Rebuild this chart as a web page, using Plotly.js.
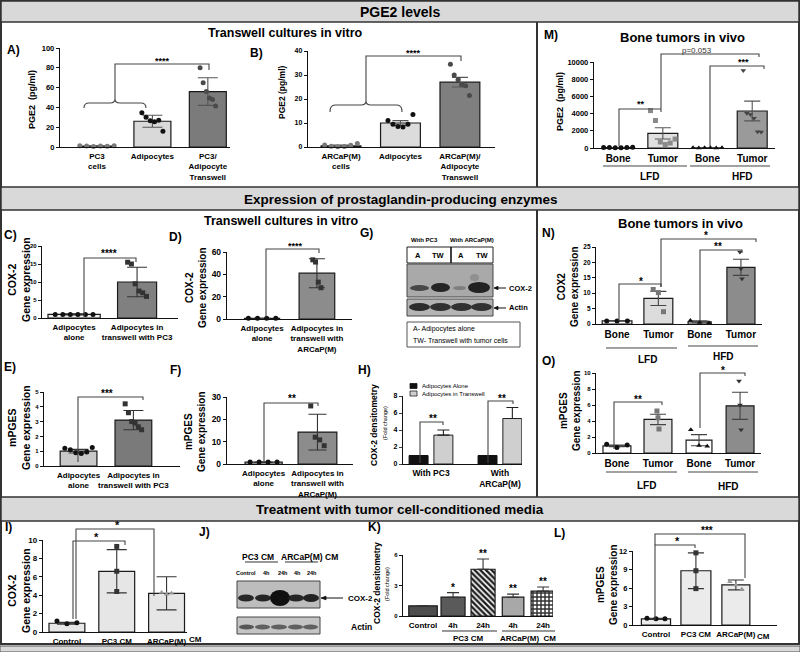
<!DOCTYPE html>
<html><head><meta charset="utf-8">
<script src="https://cdn.plot.ly/plotly-3.0.1.min.js"></script>
<style>html,body{margin:0;padding:0;background:#fff}#chart{width:800px;height:652px}</style>
</head><body><div id="chart"></div>
<script>
// ================= DATA =================
// A) PGE2, PC3 transwell
const A_cats = ['PC3<br>cells', 'Adipocytes', 'PC3/<br>Adipocyte<br>Transwell'];
const A_mean = [1, 26, 56];
const A_sd = [0.3, 6, 14];
const A_pc3 = [1.2, 1.0, 0.6, 1.0, 0.8, 1.3];
const A_adip = [34.5, 30, 26.5, 25.5, 27, 16];
const A_tw = [80, 65, 56, 49.5, 48, 41.5];
// B) PGE2, ARCaP(M) transwell
const B_cats = ['ARCaP(M)<br>cells', 'Adipocytes', 'ARCaP(M)/<br>Adipocyte<br>Transwell'];
const B_mean = [0.5, 10, 27];
const B_sd = [0.3, 1, 2];
const B_arcap = [0.8, 0.3, 0.1, 0.2, 0.7, 1.5];
const B_adip = [11, 9.5, 8.5, 8.3, 9.5, 13.5];
const B_tw = [34.5, 30, 28, 26, 25.5, 21.5];
// M) PGE2 in bone tumors
const M_cats = ['Bone', 'Tumor', 'Bone', 'Tumor'];
const M_mean = [50, 1700, 20, 4300];
const M_sd = [10, 650, 5, 1150];
const M_lfdBone = [50, 60, 40, 30, 50, 100];
const M_lfdTumor = [4350, 3200, 700, 400, 580, 1040];
const M_hfdBone = [20, 10, 15, 20, 10, 25];
const M_hfdTumor = [9000, 4050, 3900, 3450, 1900, 1850];
// C) COX-2, PC3 transwell
const C_cats = ['Adipocytes<br>alone', 'Adipocytes in<br>transwell with PC3'];
const C_mean = [1, 10];
const C_sd = [0.15, 4.1];
const C_alone = [1, 1, 1, 1, 1, 1];
const C_tw = [15.5, 15, 9.5, 7.5, 7, 6];
// D) COX-2, ARCaP(M) transwell
const D_cats = ['Adipocytes<br>alone', 'Adipocytes in<br>transwell with<br>ARCaP(M)'];
const D_mean = [0.6, 41];
const D_sd = [0.1, 13];
const D_alone = [0.6, 0.6, 0.6, 0.6];
const D_tw = [53, 51, 33, 28];
// E) mPGES, PC3 transwell
const E_cats = ['Adipocytes<br>alone', 'Adipocytes in<br>transwell with PC3'];
const E_mean = [1, 3.1];
const E_sd = [0.12, 0.65];
const E_alone = [1.2, 1.1, 0.9, 0.85, 0.95, 1.25];
const E_tw = [4.2, 3.6, 3.0, 2.9, 2.65, 2.45];
// F) mPGES, ARCaP(M) transwell
const F_cats = ['Adipocytes<br>alone', 'Adipocytes in<br>transwell with<br>ARCaP(M)'];
const F_mean = [0.8, 14.3];
const F_sd = [0.1, 8];
const F_alone = [0.9, 0.9, 0.9, 0.9];
const F_tw = [26, 12, 10.8, 8.2];
// H) COX-2 densitometry
const H_cats = ['With PC3', 'With<br>ARCaP(M)'];
const H_alone = [1, 1];
const H_tw = [3.4, 5.35];
const H_tw_sd = [0.6, 1.3];
// N) COX2 in bone tumors
const N_cats = ['Bone', 'Tumor', 'Bone', 'Tumor'];
const N_mean = [1, 8.3, 0.7, 18.4];
const N_sd = [0.05, 2.3, 0.3, 2.6];
const N_lfdBone = [1, 1, 1];
const N_lfdTumor = [11.2, 10.2, 4];
const N_hfdBone = [1.1, 0.5, 0.4];
const N_hfdTumor = [23.4, 17.9, 14.7];
// O) mPGES in bone tumors
const O_cats = ['Bone', 'Tumor', 'Bone', 'Tumor'];
const O_mean = [0.9, 4.2, 1.6, 5.9];
const O_sd = [0.1, 0.65, 0.7, 1.7];
const O_lfdBone = [1.1, 0.7, 1.0];
const O_lfdTumor = [5.25, 4.4, 3.0];
const O_hfdBone = [2.9, 0.95, 0.85];
const O_hfdTumor = [9.0, 6.0, 2.9];
// I) COX-2 with conditioned media
const I_cats = ['Control', 'PC3 CM', 'ARCaP(M)'];
const I_mean = [0.95, 6.6, 4.2];
const I_sd = [0.1, 2.35, 1.8];
const I_ctrl = [1.2, 0.9, 1.0];
const I_pc3 = [9.3, 6.6, 4.4];
const I_arcap = [4.3, 4.1, 4.2];
// K) COX-2 densitometry with conditioned media
const K_cats = ['Control', '4h', '24h', '4h', '24h'];
const K_mean = [1, 1.85, 4.6, 1.85, 2.45];
const K_sd = [0, 0.45, 1.0, 0.3, 0.4];
const K_stars = ['', '*', '**', '**', '**'];
// L) mPGES with conditioned media
const L_cats = ['Control', 'PC3 CM', 'ARCaP(M)'];
const L_mean = [1, 8.8, 6.5];
const L_sd = [0.1, 2.9, 0.8];
const L_ctrl = [1.1, 1.0, 1.0];
const L_pc3 = [11.7, 8.8, 5.9];
const L_arcap = [7.0, 6.5, 5.8];

// ================= HELPERS =================
const W = 800, H = 652;
const FONT = 'Liberation Sans, Arial, Helvetica, sans-serif';
const INK = '#000000';
const traces = [], shapes = [], annotations = [];
const layout = {
  width: W, height: H, margin: {l: 0, r: 0, t: 0, b: 0},
  paper_bgcolor: '#ffffff', plot_bgcolor: 'rgba(0,0,0,0)',
  showlegend: false, barmode: 'overlay',
  font: {family: FONT, color: INK},
  shapes: shapes, annotations: annotations
};
const fx = x => x / W, fy = y => 1 - y / H;
function conv(d) {
  const t = d.trim().split(/[\s,]+/);
  const out = []; let isX = true;
  for (const s of t) {
    if (/^[A-Za-z]$/.test(s)) { out.push(s); isX = true; }
    else { const v = parseFloat(s); out.push(isX ? fx(v).toFixed(5) : fy(v).toFixed(5)); isX = !isX; }
  }
  return out.join(' ');
}
function P(d, color, width, layer, fill) {
  shapes.push({type: 'path', xref: 'paper', yref: 'paper', path: conv(d),
    line: {color: color || '#222', width: width || 1.1}, fillcolor: fill || 'rgba(0,0,0,0)', layer: layer || 'above'});
}
function R(x0, y0, x1, y1, fill, lc, lw, layer) {
  shapes.push({type: 'rect', xref: 'paper', yref: 'paper', x0: fx(x0), x1: fx(x1), y0: fy(y1), y1: fy(y0),
    fillcolor: fill || 'rgba(0,0,0,0)', line: {color: lc || 'rgba(0,0,0,0)', width: lw || 0}, layer: layer || 'below'});
}
function Ell(x0, y0, x1, y1, fill, op) {
  shapes.push({type: 'circle', xref: 'paper', yref: 'paper', x0: fx(x0), x1: fx(x1), y0: fy(y1), y1: fy(y0),
    fillcolor: fill, opacity: op || 1, line: {width: 0}, layer: 'above'});
}
function T(x, y, text, size, o) {
  o = o || {};
  annotations.push({xref: 'paper', yref: 'paper', x: fx(x), y: fy(y), text: text, showarrow: false,
    xanchor: o.xa || 'center', yanchor: o.ya || 'middle', textangle: o.rot || 0,
    font: {family: o.fam || FONT, size: size, color: o.color || INK, weight: o.w || 'bold'}});
}
function ids(n) { const s = n === 1 ? '' : String(n); return {x: 'x' + s, y: 'y' + s, xk: 'xaxis' + s, yk: 'yaxis' + s}; }

function panel(n, o) {
  const id = ids(n);
  const [x0, x1, yt, yb] = o.box;
  layout[id.xk] = {domain: [fx(x0), fx(x1)], range: o.xr, anchor: id.y, showgrid: false, zeroline: false,
    showline: true, linecolor: '#111', linewidth: 1.2, ticks: '', tickangle: 0, tickmode: 'array',
    tickvals: o.cats.map((c, i) => i), ticktext: o.cats, ticklabelstandoff: o.stand || 1,
    tickfont: {family: FONT, size: o.catSize, color: INK, weight: 'bold'}, fixedrange: true};
  layout[id.yk] = {domain: [fy(yb), fy(yt)], range: o.yr, anchor: id.x, showgrid: false, zeroline: false,
    showline: true, linecolor: '#111', linewidth: 1.2, ticks: 'outside', ticklen: 3, tickwidth: 1, tickcolor: '#111',
    tick0: 0, dtick: o.dtick, tickformat: o.tickformat || '', exponentformat: 'none',
    tickfont: {family: FONT, size: o.tickSize, color: INK, weight: 'bold'}, fixedrange: true};
  const bar = {type: 'bar', x: o.cats.map((c, i) => i), y: o.mean, width: o.widths, xaxis: id.x, yaxis: id.y,
    marker: {color: o.colors, line: {color: '#1a1a1a', width: 1.2}}, hoverinfo: 'skip'};
  if (o.pattern) bar.marker.pattern = o.pattern;
  if (o.sd) bar.error_y = {type: 'data', symmetric: false, array: o.sd, arrayminus: o.upOnly ? o.sd.map(() => 0) : o.sd,
    visible: true, color: o.ecol || '#222', thickness: 1.1, width: o.cap};
  traces.push(bar);
  if (o.pts) {
    const xs = [], ys = [], cs = [], ss = [];
    o.pts.forEach((g, i) => {
      const m = g.length;
      g.forEach((v, k) => {
        xs.push(i + (m > 1 ? (k / (m - 1) - 0.5) * o.spread[i] : 0));
        ys.push(v); cs.push(o.pcol[i]); ss.push(o.sym[i]);
      });
    });
    traces.push({type: 'scatter', mode: 'markers', x: xs, y: ys, xaxis: id.x, yaxis: id.y, cliponaxis: false,
      marker: {size: o.psize || 5, color: cs, symbol: ss, line: {width: 0}}, hoverinfo: 'skip'});
  }
  return id;
}

// ================= FRAME =================
R(1, 1, 799, 644, 'rgba(0,0,0,0)', '#333', 2);
R(1, 1, 799, 22, '#d9d9d9', '#333', 1.5);
R(1, 187, 799, 210, '#d9d9d9', '#333', 1.5);
R(1, 497, 799, 521, '#d9d9d9', '#333', 1.5);
R(0, 646, 800, 652, '#d9d9d9', '#555', 1);
P('M 537 22 L 537 187', '#333', 2, 'below');
P('M 537 210 L 537 497', '#333', 2, 'below');
T(400, 12, 'PGE2 levels', 14);
T(401, 199, 'Expression of prostaglandin-producing enzymes', 13.5);
T(400, 509, 'Treatment with tumor cell-conditioned media', 13.5);
T(285, 33, 'Transwell cultures in vitro', 12.5);
T(682, 37, 'Bone tumors in vivo', 13);
T(281, 221, 'Transwell cultures in vitro', 12.5);
T(680, 223, 'Bone tumors in vivo', 13);

// panel letters
[['A)',13,50],['B)',256,53],['M)',551,35],['C)',10,235],['D)',175,237],['G)',366,233],['N)',548,233],
 ['E)',10,367],['F)',175,370],['H)',364,370],['O)',548,361],['I)',8,527],['J)',204,532],['K)',374,527],['L)',559,533]]
 .forEach(a => T(a[1], a[2], a[0], 12));

// ================= PANELS =================
const DARK = '#111';
// A
panel(1, {box: [60, 230, 48, 147], xr: [-0.667, 2.40], yr: [0, 100], dtick: 20, cats: A_cats, mean: A_mean, sd: A_sd,
  widths: 0.667, colors: ['#ffffff', '#d9d9d9', '#7b7b7b'], pts: [A_pc3, A_adip, A_tw], spread: [0.62, 0.38, 0.28],
  sym: ['circle', 'circle', 'circle'], pcol: ['#7a7a7a', DARK, '#4a4a4a'], cap: 10, catSize: 8, tickSize: 7.5, ecol: '#555'});
T(32, 100, 'PGE2  (pg/ml)', 9, {rot: -90});
P('M 84 108 Q 84 103 89 103 L 110 103 Q 115 103 115 99 Q 115 103 120 103 L 141 103 Q 146 103 146 108', '#444', 1.1);
P('M 115 99 L 115 64 L 209 64 L 209 70', '#444', 1.1);
T(162, 61, '****', 9);
// B
panel(2, {box: [308, 495, 51, 147], xr: [-0.555, 2.59], yr: [0, 40], dtick: 10, cats: B_cats, mean: B_mean, sd: B_sd,
  widths: 0.67, colors: ['#ffffff', '#dcdcdc', '#7f7f7f'], pts: [B_arcap, B_adip, B_tw], spread: [0.55, 0.42, 0.32],
  sym: ['circle', 'circle', 'circle'], pcol: ['#7a7a7a', DARK, '#4a4a4a'], cap: 8, catSize: 8, tickSize: 7, ecol: '#555'});
T(282, 92, 'PGE2 (pg/ml)', 8.5, {rot: -90});
P('M 330 112 Q 330 105 335 105 L 361 105 Q 366 105 366 101 Q 366 105 371 105 L 397 105 Q 402 105 402 112', '#444', 1.1);
P('M 366 101 L 366 56 L 461 56 L 461 61', '#444', 1.1);
T(413, 53, '****', 9);
// M
panel(3, {box: [594, 775, 62, 148], xr: [-0.54, 3.51], yr: [0, 10000], dtick: 2000, tickformat: 'd', cats: M_cats, mean: M_mean, sd: M_sd,
  widths: 0.67, colors: ['#ffffff', '#e0e0e0', '#ffffff', '#9a9a9a'], pts: [M_lfdBone, M_lfdTumor, M_hfdBone, M_hfdTumor],
  spread: [0.65, 0.55, 0.65, 0.4], sym: ['circle', 'square', 'triangle-up', 'triangle-down'], pcol: [DARK, '#8a8a8a', DARK, '#444'],
  cap: 8, catSize: 10, tickSize: 7.5, ecol: '#555'});
T(560, 102, 'PGE2  (pg/ml)', 9, {rot: -90});
P('M 619 146 L 619 109 L 661 109', '#444', 1.1);
P('M 661 112 L 661 54 L 759 54 L 759 57', '#444', 1.1);
P('M 710 146 L 710 66 L 764 66 L 764 69', '#444', 1.1);
T(641, 104, '**', 9); T(697, 50, 'p=0.053', 8, {w: 'normal', color: '#333'}); T(743, 62, '***', 9);
P('M 603 166 L 687 166', '#444', 1); P('M 690 166 L 770 166', '#444', 1);
T(649, 176, 'LFD', 10); T(742, 176, 'HFD', 10);

// C
panel(4, {box: [42, 178, 246, 318], xr: [-0.51, 1.65], yr: [0, 20], dtick: 5, cats: C_cats, mean: C_mean, sd: C_sd,
  widths: [0.83, 0.62], colors: ['#f0f0f0', '#808080'], pts: [C_alone, C_tw], spread: [0.6, 0.3],
  sym: ['circle', 'square'], pcol: [DARK, '#333'], cap: 10, catSize: 8, tickSize: 6, ecol: '#333'});
T(19, 280, 'COX-2<br>Gene expression', 10.5, {rot: -90});
P('M 84 316 L 84 258 L 136 258 L 136 262', '#444', 1.1);
T(109, 254, '****', 10);
// D
panel(5, {box: [227, 352, 252, 319], xr: [-0.64, 1.64], yr: [0, 60], dtick: 20, cats: D_cats, mean: D_mean, sd: D_sd,
  widths: [0.64, 0.65], colors: ['#ffffff', '#8c8c8c'], pts: [D_alone, D_tw], spread: [0.5, 0.15],
  sym: ['circle', 'square'], pcol: [DARK, '#333'], cap: 8, catSize: 8, tickSize: 8.5, ecol: '#333'});
T(196, 288, 'COX-2<br>Gene expression', 10, {rot: -90});
P('M 266 317 L 266 249 L 319 249 L 319 253', '#444', 1.1);
T(295, 246, '****', 9);

// G) western blot
T(424, 240, 'With PC3', 6); T(472, 240, 'With ARCaP(M)', 6);
R(407, 247, 493, 263, '#ffffff', '#222', 1, 'above');
P('M 451 247 L 451 263', '#111', 1.6);
T(418, 255, 'A', 7.5); T(438, 255, 'TW', 7.5); T(461, 255, 'A', 7.5); T(482, 255, 'TW', 7.5);
R(407, 264, 493, 297, '#a9a9a9', '#444', 1, 'above');
Ell(410, 285, 429, 291, '#3c3c3c', 0.9);
Ell(431, 283, 450, 292, '#1e1e1e', 0.95);
Ell(453, 286, 466, 290, '#7a7a7a', 0.9);
Ell(468, 282, 490, 293, '#1a1a1a', 0.95);
Ell(470, 274, 479, 281, '#8a8a8a', 0.8);
R(407, 299, 493, 316, '#b4b4b4', '#444', 1, 'above');
Ell(409, 303, 430, 311, '#262626', 0.95);
Ell(430, 303, 451, 311, '#2a2a2a', 0.95);
Ell(451, 303, 472, 311, '#2a2a2a', 0.95);
Ell(471, 303, 492, 311, '#2a2a2a', 0.95);
P('M 495 288 L 506 288', '#111', 1); P('M 494 288 L 498 286.3 L 498 289.7 Z', '#111', 0.8, 'above', '#111');
P('M 495 308 L 506 308', '#111', 1); P('M 494 308 L 498 306.3 L 498 309.7 Z', '#111', 0.8, 'above', '#111');
T(507, 288, 'COX-2', 7.5, {xa: 'left'}); T(507, 308, 'Actin', 7.5, {xa: 'left'});
R(407, 322, 520, 347, '#ffffff', '#555', 1, 'above');
T(411, 329, 'A- Adipocytes alone', 7, {xa: 'left', w: 'normal'});
T(411, 340, 'TW- Transwell with tumor cells', 7, {xa: 'left', w: 'normal'});

// N
panel(6, {box: [596, 762, 247, 324], xr: [-0.51, 3.51], yr: [0, 25], dtick: 5, cats: N_cats, mean: N_mean, sd: N_sd,
  widths: [0.72, 0.7, 0.56, 0.68], colors: ['#ffffff', '#dcdcdc', '#ffffff', '#8c8c8c'],
  pts: [N_lfdBone, N_lfdTumor, N_hfdBone, N_hfdTumor], spread: [0.5, 0.25, 0.45, 0.05],
  sym: ['circle', 'square', 'triangle-up', 'triangle-down'], pcol: [DARK, '#777', DARK, '#333'], cap: 8, catSize: 10, tickSize: 6.5, ecol: '#444'});
T(568, 287, 'COX2<br>Gene expression', 10, {rot: -90});
P('M 619 321 L 619 284 L 661 284 L 661 287', '#444', 1.1);
P('M 661 287 L 661 239 L 756 239 L 756 242', '#444', 1.1);
P('M 700 321 L 700 250 L 742 250 L 742 253', '#444', 1.1);
T(641, 281, '*', 10); T(706, 235, '*', 10); T(718, 246, '**', 10);
P('M 606 348 L 677 348', '#444', 1); P('M 688 346 L 758 346', '#444', 1);
T(647, 359, 'LFD', 10); T(723, 356, 'HFD', 10);

// E
panel(7, {box: [44, 180, 392, 466], xr: [-0.63, 1.85], yr: [0, 5], dtick: 1, cats: E_cats, mean: E_mean, sd: E_sd,
  widths: 0.67, colors: ['#c8c8c8', '#7a7a7a'], pts: [E_alone, E_tw], spread: [0.5, 0.3],
  sym: ['circle', 'square'], pcol: [DARK, '#333'], cap: 10, catSize: 8, tickSize: 6, ecol: '#333'});
T(19, 428, 'mPGES<br>Gene expression', 10.5, {rot: -90});
P('M 78 462 L 78 397 L 143 397 L 143 400', '#444', 1.1);
T(107, 393, '***', 10);
// F
panel(8, {box: [227, 353, 397, 464], xr: [-0.68, 1.66], yr: [0, 30], dtick: 10, cats: F_cats, mean: F_mean, sd: F_sd,
  widths: [0.69, 0.72], colors: ['#ffffff', '#8c8c8c'], pts: [F_alone, F_tw], spread: [0.5, 0.25],
  sym: ['circle', 'square'], pcol: [DARK, '#333'], cap: 9, catSize: 8, tickSize: 8.5, ecol: '#333'});
T(195, 432, 'mPGES<br>Gene expression', 10, {rot: -90});
P('M 264 462 L 264 403 L 318 403 L 318 406', '#444', 1.1);
T(292, 398, '**', 10);

// H
(function () {
  const id = ids(9);
  layout[id.xk] = {domain: [fx(403), fx(522)], range: [-0.406, 1.32], anchor: id.y, showgrid: false, zeroline: false,
    showline: true, linecolor: '#111', linewidth: 1.2, ticks: '', tickangle: 0, tickmode: 'array', tickvals: H_cats.map((c, i) => i),
    ticktext: H_cats, ticklabelstandoff: 1, tickfont: {family: FONT, size: 8.5, color: INK, weight: 'bold'}, fixedrange: true};
  layout[id.yk] = {domain: [fy(464), fy(396)], range: [0, 8], anchor: id.x, showgrid: false, zeroline: false,
    showline: true, linecolor: '#111', linewidth: 1.2, ticks: 'outside', ticklen: 3, tickwidth: 1, tick0: 0, dtick: 2,
    tickfont: {family: FONT, size: 7, color: INK, weight: 'bold'}, fixedrange: true};
  traces.push({type: 'bar', name: 'Adipocytes Alone', x: [0, 1], y: H_alone, width: 0.275, offset: -0.3175,
    xaxis: id.x, yaxis: id.y, marker: {color: '#111', line: {color: '#111', width: 1}}, hoverinfo: 'skip'});
  traces.push({type: 'bar', name: 'Adipocytes in Transwell', x: [0, 1], y: H_tw, width: 0.275, offset: 0.0425,
    xaxis: id.x, yaxis: id.y, marker: {color: '#cfcfcf', line: {color: '#222', width: 1}},
    error_y: {type: 'data', symmetric: false, array: H_tw_sd, arrayminus: [0, 0], color: '#222', thickness: 1.1, width: 6},
    hoverinfo: 'skip'});
})();
T(374, 425, 'COX-2 densitometry', 8.5, {rot: -90});
T(385, 423, '(Fold change)', 5.5, {rot: -90, w: 'normal'});
R(410, 383.5, 417, 388.5, '#111', '#111', 0.8, 'above');
R(410, 391, 417, 396, '#cfcfcf', '#222', 0.8, 'above');
T(420, 386, 'Adipocytes Alone', 6, {xa: 'left', w: 'normal'});
T(420, 393.5, 'Adipocytes in Transwell', 6, {xa: 'left', w: 'normal'});
P('M 420 463 L 420 422 L 443 422 L 443 425', '#444', 1.1);
T(433, 419, '**', 10);
P('M 488 463 L 488 401 L 513 401 L 513 404', '#444', 1.1);
T(502, 398, '**', 10);

// O
panel(10, {box: [596, 761, 373, 453], xr: [-0.51, 3.51], yr: [0, 10], dtick: 2, cats: O_cats, mean: O_mean, sd: O_sd,
  widths: [0.68, 0.68, 0.63, 0.68], colors: ['#ffffff', '#dcdcdc', '#ffffff', '#8c8c8c'],
  pts: [O_lfdBone, O_lfdTumor, O_hfdBone, O_hfdTumor], spread: [0.5, 0.05, 0.4, 0.05],
  sym: ['circle', 'square', 'triangle-up', 'triangle-down'], pcol: [DARK, '#777', DARK, '#333'], cap: 8, catSize: 10, tickSize: 6, ecol: '#444'});
T(570, 411, 'mPGES<br>Gene expression', 10, {rot: -90});
P('M 614 449 L 614 402 L 662 402 L 662 405', '#444', 1.1);
T(638, 399, '**', 10);
P('M 700 428 L 700 373 L 745 373 L 745 376', '#444', 1.1);
T(723, 370, '*', 10);
P('M 606 472 L 677 472', '#444', 1); P('M 688 472 L 758 472', '#444', 1);
T(646, 485, 'LFD', 10); T(728, 486, 'HFD', 10);

// I
panel(11, {box: [43, 187, 540, 632], xr: [-0.48, 2.41], yr: [0, 10], dtick: 2, cats: I_cats, mean: I_mean, sd: I_sd,
  widths: 0.72, colors: ['#e6e6e6', '#e6e6e6', '#e6e6e6'], pts: [I_ctrl, I_pc3, I_arcap], spread: [0.4, 0.0, 0.2],
  sym: ['circle', 'square', 'triangle-up'], pcol: [DARK, '#333', '#999'], cap: 10, catSize: 8, tickSize: 8, ecol: '#333'});
T(19, 591, 'COX-2<br>Gene expression', 10.5, {rot: -90});
P('M 73 619 L 73 541 L 125 541 L 125 545', '#444', 1.1);
P('M 76 619 L 76 529 L 154 529 L 154 596', '#444', 1.1);
T(96, 537, '*', 11); T(117, 525, '*', 11);
T(195, 639, 'CM', 8);

// J) western blot
T(258, 557, 'PC3 CM', 8.5); T(302, 557, 'ARCaP(M)', 8.5); T(331, 557, 'CM', 8.5);
P('M 245 562 L 278 562', '#333', 1); P('M 285 562 L 318 562', '#333', 1);
T(246, 573, 'Control', 5.5); T(266, 573, '4h', 5.5); T(283, 573, '24h', 5.5); T(297, 573, '4h', 5.5); T(312, 573, '24h', 5.5);
R(237, 581, 320, 608, '#bdbdbd', '#444', 1, 'above');
Ell(238, 594.5, 254, 601.5, '#1e1e1e', 0.95);
Ell(255, 594.5, 271, 601.5, '#1e1e1e', 0.95);
Ell(270, 590, 290, 606, '#0a0a0a', 0.97);
Ell(288, 594.5, 304, 601.5, '#1e1e1e', 0.95);
Ell(303, 594, 319, 602, '#1a1a1a', 0.95);
R(237, 617, 320, 634, '#c4c4c4', '#444', 1, 'above');
Ell(239, 624.5, 254, 629.5, '#4a4a4a', 0.9);
Ell(255, 624.5, 270, 629.5, '#555', 0.9);
Ell(271, 624.5, 287, 629.5, '#555', 0.9);
Ell(288, 624.5, 303, 629.5, '#555', 0.9);
Ell(303, 624.5, 318, 629.5, '#555', 0.9);
P('M 322 598 L 343 598', '#111', 1); P('M 321 598 L 326 596.2 L 326 599.8 Z', '#111', 0.8, 'above', '#111');
T(346, 598, 'COX-2', 8, {xa: 'left'}); T(349, 627, 'Actin', 8.5, {xa: 'left'});

// K
const kid = panel(12, {box: [403, 553, 555, 616], xr: [-0.667, 4.33], yr: [0, 6], dtick: 3, cats: K_cats, mean: K_mean, sd: K_sd,
  widths: [0.95, 0.8, 0.8, 0.72, 0.8], colors: ['#4d4d4d', '#5a5a5a', '#1e1e1e', '#a8a8a8', '#333333'],
  pattern: {shape: ['', '', '\\', '', '+'], size: 4, solidity: 0.6}, upOnly: true, cap: 6, catSize: 8, tickSize: 6, ecol: '#333'});
K_stars.forEach((s, i) => {
  if (s) annotations.push({xref: kid.x, yref: kid.y, x: i, y: K_mean[i] + K_sd[i], text: s, showarrow: false,
    yanchor: 'bottom', yshift: -2, font: {family: FONT, size: 10, color: INK, weight: 'bold'}});
});
T(377, 583, 'COX-2 densitometry', 8.5, {rot: -90});
T(387, 584, '(Fold change)', 5.5, {rot: -90, w: 'normal'});
P('M 442 631 L 497 631', '#333', 1); P('M 502 631 L 555 631', '#333', 1);
T(468, 638.5, 'PC3 CM', 8); T(528, 638.5, 'ARCaP(M)  CM', 8);

// L
panel(13, {box: [633, 777, 551, 625], xr: [-0.575, 3.03], yr: [0, 12], dtick: 3, cats: L_cats, mean: L_mean, sd: L_sd,
  widths: [0.73, 0.75, 0.7], colors: ['#ebebeb', '#ebebeb', '#ebebeb'], pts: [L_ctrl, L_pc3, L_arcap], spread: [0.45, 0, 0.3],
  sym: ['circle', 'square', 'triangle-up'], pcol: [DARK, '#333', '#999'], cap: 8, catSize: 8, tickSize: 7.5, ecol: '#333'});
T(607, 585, 'mPGES<br>Gene expression', 10, {rot: -90});
P('M 655 620 L 655 545 L 695 545 L 695 548', '#444', 1.1);
P('M 655 545 L 655 534 L 745 534 L 745 578', '#444', 1.1);
T(677, 541, '*', 11); T(707, 530, '***', 10);
T(763, 636, 'CM', 8);

Plotly.newPlot('chart', traces, layout, {staticPlot: true, displayModeBar: false});
</script>
</body></html>
